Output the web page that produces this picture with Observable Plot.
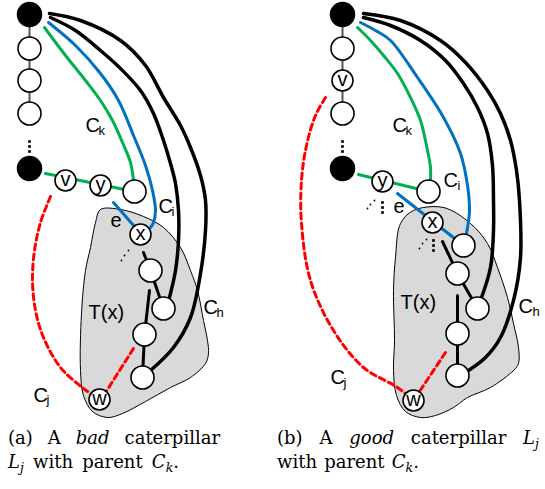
<!DOCTYPE html>
<html>
<head>
<meta charset="utf-8">
<script src="https://cdn.jsdelivr.net/npm/d3@7"></script>
<script src="https://cdn.jsdelivr.net/npm/@observablehq/plot@0.6"></script>
<style>
  html, body { margin: 0; padding: 0; background: #fff; }
  #wrap { position: relative; width: 545px; height: 489px; }
  .cap { position: absolute; font-family: "DejaVu Serif", serif; font-size: 18px; color: #000; line-height: 24px; }
  .row { display: flex; justify-content: space-between; white-space: nowrap; }
  .cap sub { font-size: 12.5px; vertical-align: -4px; line-height: 0; }
</style>
</head>
<body>
<div id="wrap">
  <div id="chart"></div>
  <div class="cap" style="left:8px; top:426px; width:212px;">
    <div class="row"><span>(a)</span><span>A</span><span><i>bad</i></span><span>caterpillar</span></div>
    <div style="white-space:nowrap; word-spacing:3.5px"><i>L</i><sub><i>j</i></sub> with parent <i>C</i><sub><i>k</i></sub>.</div>
  </div>
  <div class="cap" style="left:277px; top:426px; width:262px;">
    <div class="row"><span>(b)</span><span>A</span><span><i>good</i></span><span>caterpillar</span><span><i>L</i><sub><i>j</i></sub></span></div>
    <div style="white-space:nowrap; word-spacing:1.5px">with parent <i>C</i><sub><i>k</i></sub>.</div>
  </div>
</div>
<script>
// ---------- data (diagram coordinates, px) ----------
const blobA = [[100,209],[120,209],[143,216],[163,227],[180,247],[190,270],[197,290],[203,320],[207,340],[208,353],[205,363],[190,377],[170,387],[145,401],[122,413],[107,417],[92,411],[83,395],[80,370],[81,313],[85,270],[90,247],[95,222]];
const blobB = [[413,210],[443,207],[470,223],[487,243],[497,267],[507,297],[513,323],[518,347],[518,363],[513,370],[490,387],[467,397],[453,407],[435,415],[420,417],[405,411],[396,395],[393,370],[394,340],[393,290],[395,257],[400,223]];

const greenA = [[44,27],[65,55],[85,80],[100,100],[112,120],[122,142],[130,162],[133,180]];
const blueA  = [[48,22],[75,45],[100,73],[118,100],[133,135],[145,165],[152,190],[155,210],[153,222],[150,227]];
const blackA1 = [[50,17],[75,30],[100,50],[120,68],[140,90],[153,113],[163,140],[170,163],[175,183],[178,210],[178,240],[175,270],[169,297]];
const blackA2 = [[49,13],[80,20],[120,40],[145,65],[163,97],[180,125],[190,147],[200,175],[205,200],[205,230],[200,273],[190,317],[173,347],[150,370]];
const redA = [[50,196],[40,222],[34,250],[32,280],[35,310],[43,337],[60,367],[83,388],[98,398]];

const greenB = [[357,27],[370,40],[383,55],[397,73],[410,97],[420,120],[426,145],[430,167],[430,180]];
const blueB  = [[360,22],[375,30],[390,40],[417,77],[443,117],[460,153],[467,185],[469,210],[466,233]];
const blackB1 = [[363,17],[390,25],[420,40],[445,60],[463,83],[477,107],[487,133],[492,165],[493,200],[493,230],[490,267],[480,300]];
const blackB2 = [[363,13],[400,20],[440,40],[465,62],[487,90],[500,113],[510,140],[516,170],[519,200],[520,257],[513,300],[500,337],[485,357],[468,370]];
const redB = [[325,97],[315,115],[306,145],[301,180],[301,223],[310,280],[333,330],[363,367],[397,387],[413,400]];

const columnEdges = [[[29,14],[29,113]],[[342,14],[342,113]]];
const greenEdges = [[[45,173],[134,191]],[[358,174],[428,191]]];
const blueEdges = [[[113,202],[140,233]],[[397,193],[463,245]]];
const treeEdges = [
  [[143,252],[150,270]],[[150,270],[163,308]],[[149,290],[144,334]],[[144,334],[142,377]],
  [[442,241],[457,273]],[[457,273],[477,308]],[[457,295],[457,333]],[[457,333],[457,375]]
];
const redEdges = [[[133,348],[100,400]],[[445,352],[413,400]]];

const blackNodes = [[29,14],[29,168],[342,14],[342,168]];
const whiteNodes = [[29,48],[29,80],[29,113],[134,191],[150,270],[163,308],[144,334],[142,377],
                    [342,48],[342,113],[428,191],[463,245],[457,273],[477,308],[457,333],[457,375]];
const namedNodes = [
  {x:65,y:180,t:"v"},{x:100,y:185,t:"y"},{x:140,y:234,t:"x"},{x:99,y:399,t:"w"},
  {x:342,y:80,t:"v"},{x:382,y:181,t:"y"},{x:432,y:222,t:"x"},{x:413,y:400,t:"w"}
];
const smallDots = [[29,141],[29,146],[29,151],[342,141],[342,146],[342,151],
                   [382,202],[382,207],[382,212],[433,240],[433,245],[433,250]];
const tinyDots = [[121,260],[124,255],[128,250],[367,208],[370,204],[374,200],[419,248],[422,243],[426,239]];

const mainLabels = [
  {x:85,y:125,t:"C"},{x:158,y:206,t:"C"},{x:203,y:307,t:"C"},{x:33,y:395,t:"C"},
  {x:110,y:220,t:"e"},{x:88,y:312,t:"T(x)"},
  {x:392,y:125,t:"C"},{x:443,y:180,t:"C"},{x:518,y:306,t:"C"},{x:330,y:377,t:"C"},
  {x:393,y:206,t:"e"},{x:400,y:302,t:"T(x)"}
];
const subLabels = [
  {x:98,y:130,t:"k"},{x:171,y:211,t:"i"},{x:216,y:312,t:"h"},{x:46,y:399,t:"j"},
  {x:405,y:130,t:"k"},{x:457,y:185,t:"i"},{x:532,y:311,t:"h"},{x:343,y:382,t:"j"}
];

// ---------- build ----------
const toPts = (arr, id) => arr.map(([x,y]) => ({x, y, id}));
const segs = (list, prefix) => list.flatMap((s,i) => toPts(s, prefix + i));

const curve = "catmull-rom";
const font = "Liberation Sans, Arial, sans-serif";

const chart = Plot.plot({
  width: 545,
  height: 420,
  margin: 0,
  x: {domain: [0, 545], range: [0, 545], axis: null},
  y: {domain: [0, 420], range: [0, 420], axis: null},
  style: {background: "#fff", color: "#000"},
  marks: [
    Plot.line([...toPts(blobA,"a"), ...toPts(blobB,"b")], {x:"x", y:"y", z:"id", curve:"catmull-rom-closed", fill:"#d9d9d9", stroke:"#000", strokeWidth:1}),
    Plot.line(segs(columnEdges,"c"), {x:"x", y:"y", z:"id", stroke:"#555", strokeWidth:2}),
    Plot.line([...toPts(redA,"ra"), ...toPts(redB,"rb")], {x:"x", y:"y", z:"id", curve, stroke:"#ff0000", strokeWidth:3, strokeDasharray:"6,4"}),
    Plot.line(segs(redEdges,"re"), {x:"x", y:"y", z:"id", stroke:"#ff0000", strokeWidth:3, strokeDasharray:"6,4"}),
    Plot.line([...toPts(greenA,"ga"), ...toPts(greenB,"gb")], {x:"x", y:"y", z:"id", curve, stroke:"#00b050", strokeWidth:3}),
    Plot.line(segs(greenEdges,"ge"), {x:"x", y:"y", z:"id", stroke:"#00b050", strokeWidth:3}),
    Plot.line([...toPts(blueA,"ba"), ...toPts(blueB,"bb")], {x:"x", y:"y", z:"id", curve, stroke:"#0070c0", strokeWidth:3}),
    Plot.line(segs(blueEdges,"be"), {x:"x", y:"y", z:"id", stroke:"#0070c0", strokeWidth:3}),
    Plot.line([...toPts(blackA1,"k1"), ...toPts(blackA2,"k2"), ...toPts(blackB1,"k3"), ...toPts(blackB2,"k4")], {x:"x", y:"y", z:"id", curve, stroke:"#000", strokeWidth:3.5}),
    Plot.line(segs(treeEdges,"te"), {x:"x", y:"y", z:"id", stroke:"#000", strokeWidth:3}),
    Plot.dot(blackNodes, {x:d=>d[0], y:d=>d[1], r:12, fill:"#000", stroke:"#000"}),
    Plot.dot(whiteNodes, {x:d=>d[0], y:d=>d[1], r:11.5, fill:"#fff", stroke:"#000", strokeWidth:1.6}),
    Plot.dot(namedNodes, {x:"x", y:"y", r:10.5, fill:"#fff", stroke:"#000", strokeWidth:1.6}),
    Plot.text(namedNodes, {x:"x", y:"y", text:"t", fontSize:20, fontFamily:font, dy:-1, fill:"#000"}),
    Plot.dot(smallDots, {x:d=>d[0], y:d=>d[1], r:1.5, fill:"#000", stroke:null, symbol:"square"}),
    Plot.dot(tinyDots, {x:d=>d[0], y:d=>d[1], r:0.9, fill:"#000", stroke:null}),
    Plot.text(mainLabels, {x:"x", y:"y", text:"t", fontSize:20, fontFamily:font, textAnchor:"start", fill:"#000"}),
    Plot.text(subLabels, {x:"x", y:"y", text:"t", fontSize:13, fontFamily:font, textAnchor:"start", fill:"#000"})
  ]
});
document.getElementById("chart").appendChild(chart);
</script>
</body>
</html>
